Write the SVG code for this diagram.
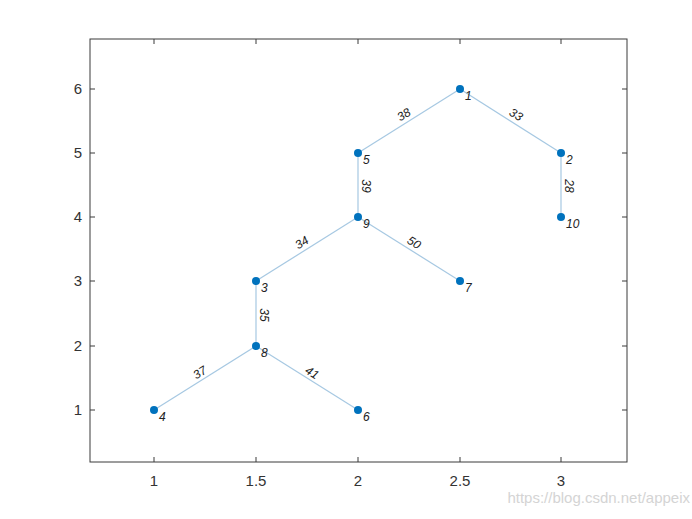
<svg xmlns="http://www.w3.org/2000/svg" width="692" height="519" viewBox="0 0 692 519">
<style>
.ax{fill:none;stroke:#3a3a3a;stroke-width:1}
.tick{stroke:#3a3a3a;stroke-width:1}
.tl{font-family:"Liberation Sans",Arial,sans-serif;font-size:15px;fill:#333}
.e{stroke:#a6c8e2;stroke-width:1.2;fill:none}
.n{fill:#0072bd}
.nl{font-family:"Liberation Sans",Arial,sans-serif;font-size:12px;font-style:italic;fill:#222}
.el{font-family:"Liberation Sans",Arial,sans-serif;font-size:12px;font-style:italic;fill:#222;text-anchor:middle}
.wm{font-family:"Liberation Sans",Arial,sans-serif;font-size:15px;fill:#d4d4d4}
</style>
<rect width="692" height="519" fill="#fff"/>
<g id="axes">
<rect class="ax" x="90" y="39" width="537" height="423"/>
<path class="tick" d="M154,462v-5M256,462v-5M358,462v-5M460,462v-5M561,462v-5M154,39v5M256,39v5M358,39v5M460,39v5M561,39v5M90,410h5M90,346h5M90,281h5M90,217h5M90,153h5M90,89h5M627,410h-5M627,346h-5M627,281h-5M627,217h-5M627,153h-5M627,89h-5"/>
<g class="tl" text-anchor="middle">
<text x="154" y="486">1</text><text x="256" y="486">1.5</text><text x="358" y="486">2</text><text x="460" y="486">2.5</text><text x="561" y="486">3</text>
</g>
<g class="tl" text-anchor="end">
<text x="82" y="415">1</text><text x="82" y="351">2</text><text x="82" y="286">3</text><text x="82" y="222">4</text><text x="82" y="158">5</text><text x="82" y="94">6</text>
</g>
</g>
<g id="edges">
<line class="e" x1="460" y1="89" x2="358" y2="153"/>
<line class="e" x1="460" y1="89" x2="561" y2="153"/>
<line class="e" x1="358" y1="153" x2="358" y2="217"/>
<line class="e" x1="561" y1="153" x2="561" y2="217"/>
<line class="e" x1="358" y1="217" x2="256" y2="281"/>
<line class="e" x1="358" y1="217" x2="460" y2="281"/>
<line class="e" x1="256" y1="281" x2="256" y2="346"/>
<line class="e" x1="256" y1="346" x2="154" y2="410"/>
<line class="e" x1="256" y1="346" x2="358" y2="410"/>
<text class="el" transform="translate(406,118) rotate(-32)">38</text>
<text class="el" transform="translate(514,118) rotate(32)">33</text>
<text class="el" transform="translate(362,186) rotate(90)">39</text>
<text class="el" transform="translate(565,186) rotate(90)">28</text>
<text class="el" transform="translate(304,246) rotate(-32)">34</text>
<text class="el" transform="translate(412,246) rotate(32)">50</text>
<text class="el" transform="translate(260,315) rotate(90)">35</text>
<text class="el" transform="translate(202,376) rotate(-32)">37</text>
<text class="el" transform="translate(310,376) rotate(32)">41</text>
</g>
<g id="node1"><circle class="n" cx="460" cy="89" r="4"/><text class="nl" x="465" y="100">1</text></g>
<g id="node2"><circle class="n" cx="561" cy="153" r="4"/><text class="nl" x="566" y="164">2</text></g>
<g id="node3"><circle class="n" cx="256" cy="281" r="4"/><text class="nl" x="261" y="292">3</text></g>
<g id="node4"><circle class="n" cx="154" cy="410" r="4"/><text class="nl" x="159" y="421">4</text></g>
<g id="node5"><circle class="n" cx="358" cy="153" r="4"/><text class="nl" x="363" y="164">5</text></g>
<g id="node6"><circle class="n" cx="358" cy="410" r="4"/><text class="nl" x="363" y="421">6</text></g>
<g id="node7"><circle class="n" cx="460" cy="281" r="4"/><text class="nl" x="465" y="292">7</text></g>
<g id="node8"><circle class="n" cx="256" cy="346" r="4"/><text class="nl" x="261" y="357">8</text></g>
<g id="node9"><circle class="n" cx="358" cy="217" r="4"/><text class="nl" x="363" y="228">9</text></g>
<g id="node10"><circle class="n" cx="561" cy="217" r="4"/><text class="nl" x="566" y="228">10</text></g>
<text class="wm" x="690" y="503" text-anchor="end">https://blog.csdn.net/appeix</text>
</svg>
